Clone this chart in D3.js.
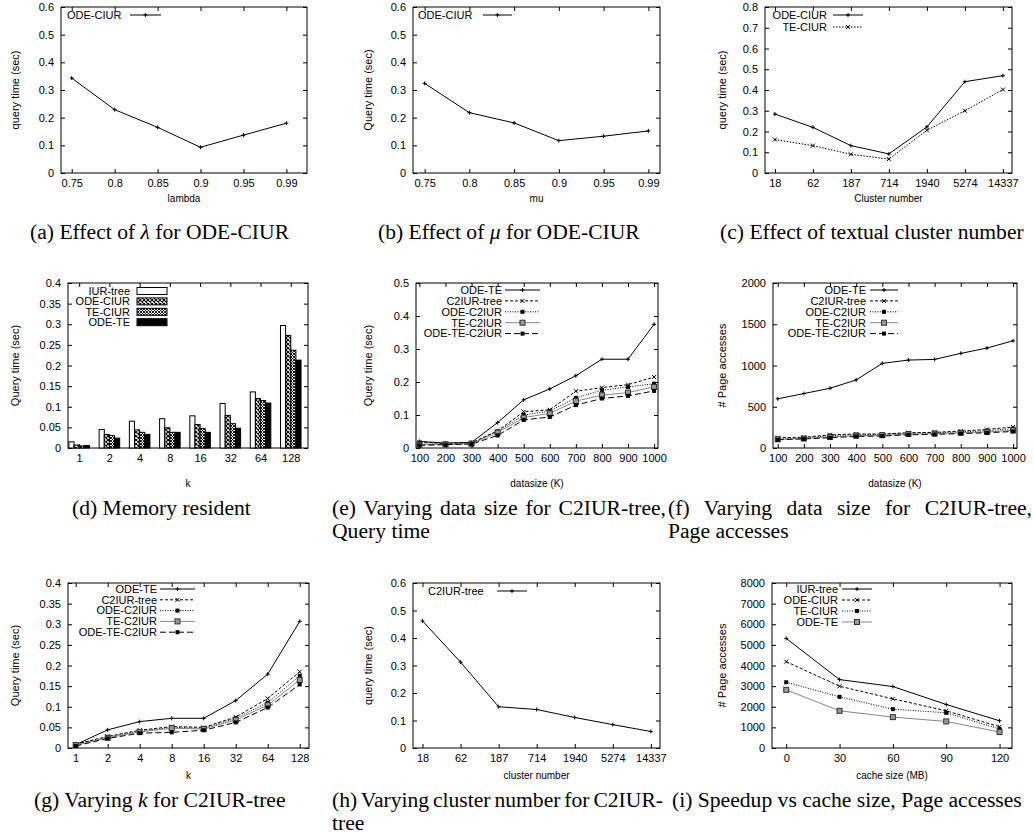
<!DOCTYPE html>
<html>
<head>
<meta charset="utf-8">
<script src="https://cdn.jsdelivr.net/npm/d3@7"></script>
<style>
body { margin: 0; background: #fff; }
svg text { font-family: "Liberation Sans", Arial, sans-serif; fill: #000; }
.cap { font-family: "Liberation Serif", "Times New Roman", serif; font-size: 20px; }
</style>
</head>
<body>
<svg id="fig" width="1034" height="839"></svg>
<script>
// ---- data ----
const lambdaCats = ["0.75", "0.8", "0.85", "0.9", "0.95", "0.99"];
const lambdaOdeCiur = [0.343, 0.229, 0.165, 0.093, 0.137, 0.180];

const muCats = ["0.75", "0.8", "0.85", "0.9", "0.95", "0.99"];
const muOdeCiur = [0.324, 0.218, 0.181, 0.117, 0.133, 0.152];

const clusterCats = ["18", "62", "187", "714", "1940", "5274", "14337"];
const clusterOdeCiur = [0.284, 0.220, 0.132, 0.092, 0.222, 0.440, 0.469];
const clusterTeCiur = [0.161, 0.132, 0.090, 0.067, 0.206, 0.300, 0.402];

const kCats = ["1", "2", "4", "8", "16", "32", "64", "128"];
const memIurTree = [0.015, 0.045, 0.065, 0.071, 0.078, 0.108, 0.136, 0.297];
const memOdeCiur = [0.007, 0.033, 0.044, 0.049, 0.057, 0.079, 0.120, 0.273];
const memTeCiur = [0.005, 0.030, 0.038, 0.038, 0.047, 0.059, 0.115, 0.237];
const memOdeTe = [0.006, 0.024, 0.033, 0.038, 0.038, 0.048, 0.109, 0.213];

const dataSizes = [100, 200, 300, 400, 500, 600, 700, 800, 900, 1000];
const qtOdeTe = [0.020, 0.015, 0.017, 0.077, 0.146, 0.179, 0.219, 0.269, 0.269, 0.375];
const qtC2iur = [0.018, 0.014, 0.016, 0.052, 0.110, 0.116, 0.172, 0.183, 0.192, 0.215];
const qtOdeC2iur = [0.012, 0.012, 0.014, 0.050, 0.100, 0.112, 0.152, 0.175, 0.185, 0.195];
const qtTeC2iur = [0.010, 0.011, 0.013, 0.047, 0.092, 0.105, 0.142, 0.160, 0.168, 0.185];
const qtOdeTeC2iur = [0.008, 0.010, 0.012, 0.038, 0.085, 0.094, 0.130, 0.150, 0.158, 0.173];

const paOdeTe = [596, 660, 724, 825, 1026, 1066, 1074, 1147, 1211, 1300];
const paC2iur = [125, 130, 160, 170, 170, 185, 190, 205, 225, 255];
const paOdeC2iur = [110, 120, 150, 160, 165, 180, 185, 195, 210, 235];
const paTeC2iur = [105, 115, 135, 150, 155, 170, 175, 185, 195, 215];
const paOdeTeC2iur = [100, 110, 125, 140, 145, 160, 165, 175, 185, 200];

const kOdeTe = [0.008, 0.044, 0.064, 0.072, 0.072, 0.115, 0.179, 0.307];
const kC2iur = [0.009, 0.028, 0.043, 0.052, 0.050, 0.075, 0.120, 0.185];
const kOdeC2iur = [0.009, 0.027, 0.041, 0.050, 0.048, 0.072, 0.110, 0.175];
const kTeC2iur = [0.007, 0.025, 0.039, 0.048, 0.046, 0.068, 0.104, 0.165];
const kOdeTeC2iur = [0.005, 0.023, 0.036, 0.038, 0.043, 0.062, 0.098, 0.154];

const c2ClusterCats = ["18", "62", "187", "714", "1940", "5274", "14337"];
const c2ClusterTime = [0.462, 0.312, 0.150, 0.140, 0.111, 0.085, 0.060];

const cacheSizes = [0, 30, 60, 90, 120];
const cacheIurTree = [5314, 3317, 2979, 2110, 1320];
const cacheOdeCiur = [4187, 2995, 2383, 1803, 1030];
const cacheTeCiur = [3188, 2480, 1884, 1707, 918];
const cacheOdeTe = [2818, 1803, 1497, 1288, 773];

// ---- line styles (gnuplot like) ----
const styles = {
    solid:   { color: "#000", dash: null, mark: "plus" },
    dashed:  { color: "#000", dash: "3,2", mark: "cross" },
    dotted:  { color: "#000", dash: "1,1.5", mark: "square" },
    gray:    { color: "#888", dash: null, mark: "box" },
    longdash:{ color: "#000", dash: "6,3", mark: "square" },
    dotStar: { color: "#000", dash: "1.5,1.5", mark: "cross" }
};

const svg = d3.select("#fig");
const fmt = d => String(+d.toFixed(3));

// patterns for the bars
const defs = svg.append("defs");
let p1 = defs.append("pattern").attr("id", "chk").attr("patternUnits", "userSpaceOnUse")
    .attr("width", 4).attr("height", 4);
p1.append("rect").attr("width", 4).attr("height", 4).attr("fill", "#fff");
p1.append("path").attr("d", "M0,0L4,4M4,0L0,4").attr("stroke", "#000").attr("stroke-width", 1.1);
let p2 = defs.append("pattern").attr("id", "hatch").attr("patternUnits", "userSpaceOnUse")
    .attr("width", 3).attr("height", 3);
p2.append("rect").attr("width", 3).attr("height", 3).attr("fill", "#fff");
p2.append("path").attr("d", "M0,0L3,3M3,0L0,3").attr("stroke", "#000").attr("stroke-width", 0.9);

function panel(o) {
    let g = svg.append("g");
    let x = d3.scaleLinear().domain(o.xDomain).range([o.left, o.right]);
    let y = d3.scaleLinear().domain(o.yDomain).range([o.bottom, o.top]);

    g.append("g").attr("transform", "translate(" + o.left + ",0)")
        .call(d3.axisLeft(y).tickValues(o.yTicks).tickSize(-4).tickPadding(7).tickFormat(fmt));
    g.append("g").attr("transform", "translate(" + o.right + ",0)")
        .call(d3.axisRight(y).tickValues(o.yTicks).tickSize(-4).tickFormat(""));
    g.append("g").attr("transform", "translate(0," + o.bottom + ")")
        .call(d3.axisBottom(x).tickValues(o.xTicks).tickSize(-4).tickPadding(6).tickFormat(o.xFormat));
    g.append("g").attr("transform", "translate(0," + o.top + ")")
        .call(d3.axisTop(x).tickValues(o.xTicks).tickSize(-4).tickFormat(""));

    g.selectAll(".domain").remove();
    g.selectAll("g").attr("font-size", 11).attr("font-family", "Liberation Sans, Arial, sans-serif");
    g.selectAll(".tick line").attr("stroke", "#000");

    g.append("rect")
        .attr("x", o.left).attr("y", o.top)
        .attr("width", o.right - o.left).attr("height", o.bottom - o.top)
        .attr("fill", "none").attr("stroke", "#000").attr("stroke-width", 1);

    g.append("text")
        .attr("transform", "translate(" + o.ylabelX + "," + (o.top + o.bottom) / 2 + ") rotate(-90)")
        .attr("text-anchor", "middle").attr("dy", "0.35em")
        .attr("font-size", 11).text(o.ylabel);

    g.append("text")
        .attr("x", (o.left + o.right) / 2).attr("y", o.xlabelY)
        .attr("text-anchor", "middle").attr("font-size", 10).text(o.xlabel);

    return { g: g, x: x, y: y };
}

function marker(g, type, cx, cy, color) {
    if (type == "plus") {
        g.append("path").attr("d", "M" + (cx - 2) + "," + cy + "h4M" + cx + "," + (cy - 2) + "v4")
            .attr("stroke", color).attr("stroke-width", 1);
    } else if (type == "cross") {
        g.append("path").attr("d", "M" + (cx - 2) + "," + (cy - 2) + "l4,4M" + (cx - 2) + "," + (cy + 2) + "l4,-4")
            .attr("stroke", color).attr("stroke-width", 1);
    } else if (type == "square") {
        g.append("rect").attr("x", cx - 2).attr("y", cy - 2).attr("width", 4).attr("height", 4)
            .attr("fill", color);
    } else if (type == "box") {
        g.append("rect").attr("x", cx - 2.5).attr("y", cy - 2.5).attr("width", 5).attr("height", 5)
            .attr("fill", "#999").attr("stroke", "#333").attr("stroke-width", 1);
    }
}

function series(p, xs, ys, st) {
    let line = d3.line().x((d, i) => p.x(xs[i])).y(d => p.y(d));
    p.g.append("path").datum(ys)
        .attr("d", line)
        .attr("fill", "none")
        .attr("stroke", st.color)
        .attr("stroke-width", 1)
        .attr("stroke-dasharray", st.dash);
    ys.forEach(function (d, i) {
        marker(p.g, st.mark, p.x(xs[i]), p.y(d), st.color == "#888" ? "#555" : st.color);
    });
}

function legendRow(p, label, anchor, tx, y, x1, x2, st) {
    p.g.append("text").attr("x", tx).attr("y", y).attr("dy", "0.35em")
        .attr("text-anchor", anchor).attr("font-size", 11).text(label);
    p.g.append("line").attr("x1", x1).attr("x2", x2).attr("y1", y).attr("y2", y)
        .attr("stroke", st.color).attr("stroke-width", 1).attr("stroke-dasharray", st.dash);
    marker(p.g, st.mark, (x1 + x2) / 2, y, st.color == "#888" ? "#555" : st.color);
}

const idx = arr => arr.map((d, i) => i);
const range = (a, b, s) => d3.range(0, Math.round((b - a) / s) + 1).map(i => +(a + i * s).toFixed(4));

// (a) lambda
let pa = panel({ left: 61, right: 307, top: 7, bottom: 173,
    xDomain: [-0.25, 5.48], yDomain: [0, 0.6], yTicks: range(0, 0.6, 0.1),
    xTicks: idx(lambdaCats), xFormat: i => lambdaCats[i],
    ylabel: "query time (sec)", ylabelX: 15, xlabel: "lambda", xlabelY: 202 });
series(pa, idx(lambdaCats), lambdaOdeCiur, styles.solid);
legendRow(pa, "ODE-CIUR", "start", 67, 15, 130, 161, styles.solid);

// (b) mu
let pb = panel({ left: 413, right: 660, top: 7, bottom: 173,
    xDomain: [-0.26, 5.26], yDomain: [0, 0.6], yTicks: range(0, 0.6, 0.1),
    xTicks: idx(muCats), xFormat: i => muCats[i],
    ylabel: "Query time (sec)", ylabelX: 368, xlabel: "mu", xlabelY: 202 });
series(pb, idx(muCats), muOdeCiur, styles.solid);
legendRow(pb, "ODE-CIUR", "start", 418, 15, 483, 512, styles.solid);

// (c) textual cluster number
let pc = panel({ left: 765, right: 1012, top: 7, bottom: 173,
    xDomain: [-0.26, 6.24], yDomain: [0, 0.8], yTicks: range(0, 0.8, 0.1),
    xTicks: idx(clusterCats), xFormat: i => clusterCats[i],
    ylabel: "query time (sec)", ylabelX: 722, xlabel: "Cluster number", xlabelY: 202 });
series(pc, idx(clusterCats), clusterOdeCiur, styles.solid);
series(pc, idx(clusterCats), clusterTeCiur, styles.dotStar);
legendRow(pc, "ODE-CIUR", "end", 827, 15, 833, 863, styles.solid);
legendRow(pc, "TE-CIUR", "end", 827, 27, 833, 863, styles.dotStar);

// (d) memory resident bars
let pd = panel({ left: 68, right: 308, top: 283, bottom: 448,
    xDomain: [-0.37, 7.57], yDomain: [0, 0.4], yTicks: range(0, 0.4, 0.05),
    xTicks: idx(kCats), xFormat: i => kCats[i],
    ylabel: "Query time (sec)", ylabelX: 15, xlabel: "k", xlabelY: 487 });
const barSeries = [
    { name: "IUR-tree", vals: memIurTree, fill: "#fff" },
    { name: "ODE-CIUR", vals: memOdeCiur, fill: "url(#chk)" },
    { name: "TE-CIUR", vals: memTeCiur, fill: "url(#hatch)" },
    { name: "ODE-TE", vals: memOdeTe, fill: "#000" }
];
const bw = 0.17;
barSeries.forEach(function (s, si) {
    pd.g.selectAll(".bar" + si).data(s.vals).enter().append("rect")
        .attr("x", (d, i) => pd.x(i - 2 * bw + si * bw))
        .attr("width", pd.x(bw) - pd.x(0))
        .attr("y", d => pd.y(d))
        .attr("height", d => pd.y(0) - pd.y(d))
        .attr("fill", s.fill).attr("stroke", "#000").attr("stroke-width", 1);
    let ly = 291 + si * 10.4;
    pd.g.append("text").attr("x", 130).attr("y", ly).attr("dy", "0.35em")
        .attr("text-anchor", "end").attr("font-size", 11).text(s.name);
    pd.g.append("rect").attr("x", 137).attr("y", ly - 3.5).attr("width", 30).attr("height", 7)
        .attr("fill", s.fill).attr("stroke", "#000").attr("stroke-width", 1);
});

// (e) data size, query time
let pe = panel({ left: 416, right: 658, top: 283, bottom: 448,
    xDomain: [87, 1015], yDomain: [0, 0.5], yTicks: range(0, 0.5, 0.1),
    xTicks: dataSizes, xFormat: d => d,
    ylabel: "Query time (sec)", ylabelX: 368, xlabel: "datasize (K)", xlabelY: 487 });
const eSeries = [
    ["ODE-TE", qtOdeTe, styles.solid],
    ["C2IUR-tree", qtC2iur, styles.dashed],
    ["ODE-C2IUR", qtOdeC2iur, styles.dotted],
    ["TE-C2IUR", qtTeC2iur, styles.gray],
    ["ODE-TE-C2IUR", qtOdeTeC2iur, styles.longdash]
];
eSeries.forEach(function (s, si) {
    series(pe, dataSizes, s[1], s[2]);
    legendRow(pe, s[0], "end", 502, 290 + si * 10.9, 505, 540, s[2]);
});

// (f) data size, page accesses
let pf = panel({ left: 773, right: 1017, top: 283, bottom: 448,
    xDomain: [82, 1015], yDomain: [0, 2000], yTicks: range(0, 2000, 500),
    xTicks: dataSizes, xFormat: d => d,
    ylabel: "# Page accesses", ylabelX: 722, xlabel: "datasize (K)", xlabelY: 487 });
const fSeries = [
    ["ODE-TE", paOdeTe, styles.solid],
    ["C2IUR-tree", paC2iur, styles.dashed],
    ["ODE-C2IUR", paOdeC2iur, styles.dotted],
    ["TE-C2IUR", paTeC2iur, styles.gray],
    ["ODE-TE-C2IUR", paOdeTeC2iur, styles.longdash]
];
fSeries.forEach(function (s, si) {
    series(pf, dataSizes, s[1], s[2]);
    legendRow(pf, s[0], "end", 866, 290 + si * 10.9, 870, 898, s[2]);
});

// (g) varying k
let pg = panel({ left: 68, right: 309, top: 583, bottom: 748,
    xDomain: [-0.24, 7.29], yDomain: [0, 0.4], yTicks: range(0, 0.4, 0.05),
    xTicks: idx(kCats), xFormat: i => kCats[i],
    ylabel: "Query time (sec)", ylabelX: 15, xlabel: "k", xlabelY: 779 });
const gSeries = [
    ["ODE-TE", kOdeTe, styles.solid],
    ["C2IUR-tree", kC2iur, styles.dashed],
    ["ODE-C2IUR", kOdeC2iur, styles.dotted],
    ["TE-C2IUR", kTeC2iur, styles.gray],
    ["ODE-TE-C2IUR", kOdeTeC2iur, styles.longdash]
];
gSeries.forEach(function (s, si) {
    series(pg, idx(kCats), s[1], s[2]);
    legendRow(pg, s[0], "end", 157, 589 + si * 10.8, 160, 195, s[2]);
});

// (h) cluster number for C2IUR-tree
let ph = panel({ left: 413, right: 660, top: 583, bottom: 748,
    xDomain: [-0.25, 6.24], yDomain: [0, 0.6], yTicks: range(0, 0.6, 0.1),
    xTicks: idx(c2ClusterCats), xFormat: i => c2ClusterCats[i],
    ylabel: "query time (sec)", ylabelX: 368, xlabel: "cluster number", xlabelY: 779 });
series(ph, idx(c2ClusterCats), c2ClusterTime, styles.solid);
legendRow(ph, "C2IUR-tree", "start", 428, 591, 497, 527, styles.solid);

// (i) cache size
let pi = panel({ left: 772, right: 1012, top: 583, bottom: 748,
    xDomain: [-8, 127], yDomain: [0, 8000], yTicks: range(0, 8000, 1000),
    xTicks: cacheSizes, xFormat: d => d,
    ylabel: "# Page accesses", ylabelX: 722, xlabel: "cache size (MB)", xlabelY: 779 });
const iSeries = [
    ["IUR-tree", cacheIurTree, styles.solid],
    ["ODE-CIUR", cacheOdeCiur, styles.dashed],
    ["TE-CIUR", cacheTeCiur, styles.dotted],
    ["ODE-TE", cacheOdeTe, styles.gray]
];
iSeries.forEach(function (s, si) {
    series(pi, cacheSizes, s[1], s[2]);
    legendRow(pi, s[0], "end", 838, 589 + si * 11, 842, 872, s[2]);
});

// ---- captions ----
const stretch = 1.08;
const captions = [
    { x: 30, y: 239, parts: [["(a) Effect of ", 0], ["λ", 1], [" for ODE-CIUR", 0]] },
    { x: 378, y: 239, parts: [["(b) Effect of ", 0], ["μ", 1], [" for ODE-CIUR", 0]] },
    { x: 720, y: 239, parts: [["(c) Effect of textual cluster number", 0]] },
    { x: 72, y: 515, parts: [["(d) Memory resident", 0]] },
    { x: 332, y: 515, parts: [["(e) Varying data size for C2IUR-tree,", 0]], w: 334 },
    { x: 332, y: 538, parts: [["Query time", 0]] },
    { x: 668, y: 515, parts: [["(f) Varying data size for C2IUR-tree,", 0]], w: 364 },
    { x: 668, y: 538, parts: [["Page accesses", 0]] },
    { x: 34, y: 807, parts: [["(g) Varying ", 0], ["k", 1], [" for C2IUR-tree", 0]] },
    { x: 332, y: 807, parts: [["(h) Varying cluster number for C2IUR-", 0]], w: 331 },
    { x: 332, y: 830, parts: [["tree", 0]] },
    { x: 672, y: 807, parts: [["(i) Speedup vs cache size, Page accesses", 0]] }
];
captions.forEach(function (c) {
    let t = svg.append("text").attr("class", "cap").attr("x", c.x).attr("y", c.y);
    c.parts.forEach(function (p) {
        t.append("tspan").attr("font-style", p[1] ? "italic" : null).text(p[0]);
    });
    let natural = t.node().getComputedTextLength();
    if (c.w) {
        // justified lines: spread the extra room over the word gaps
        let gaps = c.parts.map(p => p[0]).join("").split(" ").length - 1;
        t.attr("word-spacing", ((c.w / stretch - natural) / gaps).toFixed(2));
        t.attr("textLength", c.w).attr("lengthAdjust", "spacingAndGlyphs");
    } else {
        t.attr("textLength", (natural * stretch).toFixed(1)).attr("lengthAdjust", "spacingAndGlyphs");
    }
});
</script>
</body>
</html>
